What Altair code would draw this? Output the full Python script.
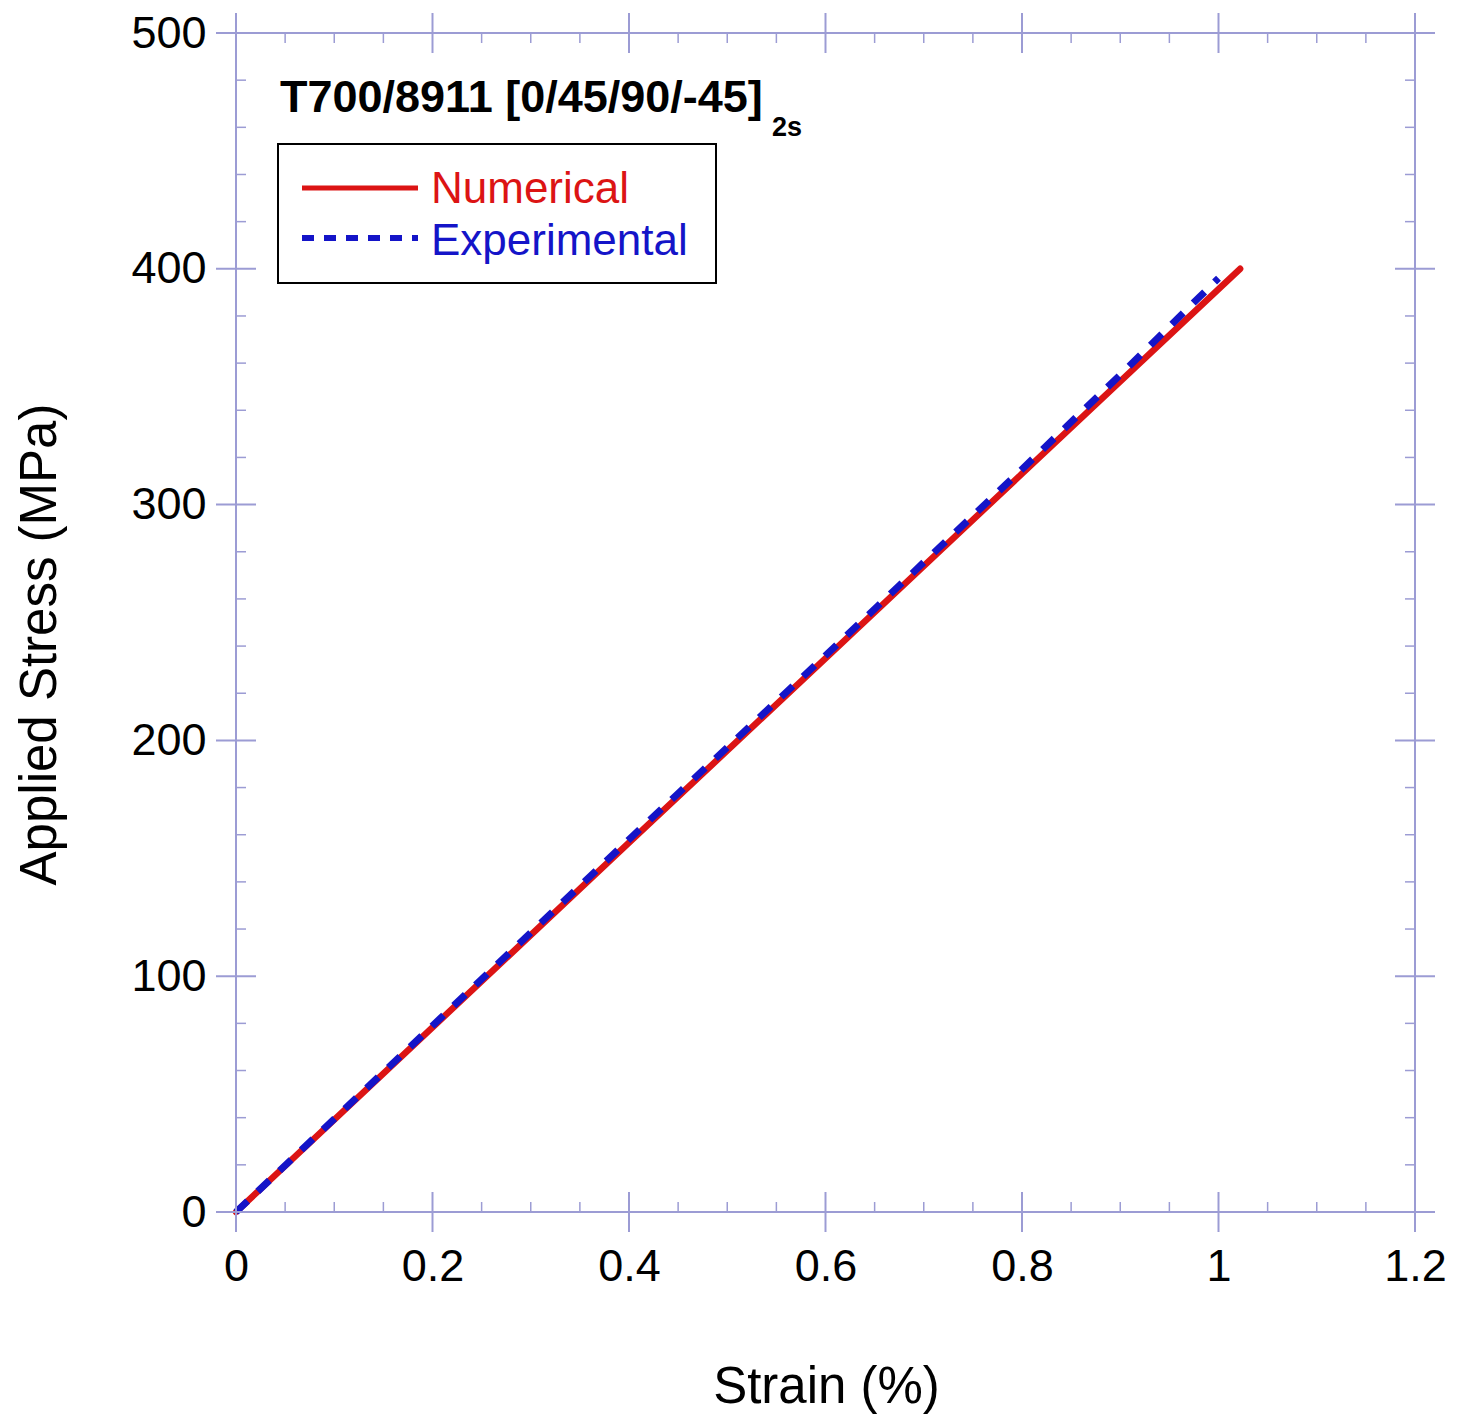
import altair as alt
import pandas as pd

# ---------------- data ----------------
num_strain = [0.0, 0.2, 0.4, 0.6, 0.8, 1.022]
num_stress = [0.0, 78.3, 156.6, 234.8, 313.1, 400.0]

exp_strain = [0.0, 0.2, 0.4, 0.6, 0.8, 0.9, 1.0]
exp_stress = [0.0, 79.0, 158.0, 236.0, 315.0, 355.0, 396.0]

x_major = [0, 0.2, 0.4, 0.6, 0.8, 1.0, 1.2]
x_minor = [0.05, 0.1, 0.15, 0.25, 0.3, 0.35, 0.45, 0.5, 0.55, 0.65, 0.7, 0.75,
           0.85, 0.9, 0.95, 1.05, 1.1, 1.15]
y_major = [0, 100, 200, 300, 400, 500]
y_minor = [20, 40, 60, 80, 120, 140, 160, 180, 220, 240, 260, 280,
           320, 340, 360, 380, 420, 440, 460, 480]

series_names = ["Numerical", "Experimental"]
title_main = "T700/8911 [0/45/90/-45]"
title_sub = "2s"
x_title = "Strain (%)"
y_title = "Applied Stress (MPa)"

# ---------------- style ----------------
W = 1179
H = 1179
FONT = "Liberation Sans"
RED = "#dc1414"
BLUE = "#1414c8"
AX = "#9c9cd4"

xscale = alt.Scale(domain=[0, 1.2], nice=False, zero=False)
yscale = alt.Scale(domain=[0, 500], nice=False, zero=False)

num_df = pd.DataFrame({"strain": num_strain, "stress": num_stress})
exp_df = pd.DataFrame({"strain": exp_strain, "stress": exp_stress})

x_axis = alt.Axis(values=x_major, format="~g", domain=False, ticks=False, grid=False,
                  labelFont=FONT, labelFontSize=45, labelColor="black", labelPadding=32,
                  labelFlush=False, labelOverlap=False,
                  title=x_title, titleFont=FONT, titleFontSize=51, titleFontWeight="normal",
                  titleColor="black", titleX=590, titleY=190, titleBaseline="alphabetic",
                  titleAlign="center")
y_axis = alt.Axis(values=y_major, format="d", domain=False, ticks=False, grid=False,
                  labelFont=FONT, labelFontSize=45, labelColor="black", labelPadding=30,
                  labelFlush=False, labelOverlap=False,
                  title=y_title, titleFont=FONT, titleFontSize=51, titleFontWeight="normal",
                  titleColor="black", titleX=-181, titleY=611, titleAngle=270,
                  titleBaseline="alphabetic", titleAlign="center")

num_line = alt.Chart(num_df).mark_line(color=RED, strokeWidth=6.5, strokeCap="round").encode(
    x=alt.X("strain:Q", scale=xscale, axis=x_axis),
    y=alt.Y("stress:Q", scale=yscale, axis=y_axis),
)
exp_line = alt.Chart(exp_df).mark_line(color=BLUE, strokeWidth=7, strokeDash=[16, 14]).encode(
    x=alt.X("strain:Q", scale=xscale, axis=x_axis),
    y=alt.Y("stress:Q", scale=yscale, axis=y_axis),
)

# ---------------- frame and ticks ----------------
xmaj_df = pd.DataFrame({"v": x_major})
xmin_df = pd.DataFrame({"v": x_minor})
ymaj_df = pd.DataFrame({"v": y_major})
ymin_df = pd.DataFrame({"v": y_minor})


def xticks(df, y1, y2, w):
    return alt.Chart(df).mark_rule(color=AX, strokeWidth=w).encode(
        x=alt.X("v:Q", scale=xscale, axis=x_axis), y=alt.value(y1), y2=alt.value(y2))


def yticks(df, x1, x2, w):
    return alt.Chart(df).mark_rule(color=AX, strokeWidth=w).encode(
        y=alt.Y("v:Q", scale=yscale, axis=y_axis), x=alt.value(x1), x2=alt.value(x2))


tick_layers = [
    xticks(xmaj_df, H - 20, H + 20, 2),
    xticks(xmaj_df, -20, 20, 2),
    xticks(xmin_df, H - 10, H, 1.5),
    xticks(xmin_df, 0, 10, 1.5),
    yticks(ymaj_df, -20, 20, 2),
    yticks(ymaj_df, W - 20, W + 20, 2),
    yticks(ymin_df, 0, 10, 1.5),
    yticks(ymin_df, W - 10, W, 1.5),
]

one = pd.DataFrame({"k": [0]})
frame_layers = [
    alt.Chart(one).mark_rule(color=AX, strokeWidth=2).encode(
        x=alt.value(-20), x2=alt.value(W + 20), y=alt.value(H)),
    alt.Chart(one).mark_rule(color=AX, strokeWidth=2).encode(
        x=alt.value(-20), x2=alt.value(W + 20), y=alt.value(0)),
    alt.Chart(one).mark_rule(color=AX, strokeWidth=2).encode(
        y=alt.value(-20), y2=alt.value(H + 20), x=alt.value(0)),
    alt.Chart(one).mark_rule(color=AX, strokeWidth=2).encode(
        y=alt.value(-20), y2=alt.value(H + 20), x=alt.value(W)),
]

# ---------------- title & legend ----------------
title_df = pd.DataFrame({"t": [title_main]})
sub_df = pd.DataFrame({"t": [title_sub]})
title_text = alt.Chart(title_df).mark_text(
    font=FONT, fontSize=45, fontWeight="bold", align="left", baseline="alphabetic", color="black"
).encode(x=alt.value(44), y=alt.value(79), text="t:N")
sub_text = alt.Chart(sub_df).mark_text(
    font=FONT, fontSize=27, fontWeight="bold", align="left", baseline="alphabetic", color="black"
).encode(x=alt.value(536), y=alt.value(103), text="t:N")

legend_box = alt.Chart(one).mark_rect(fill="white", stroke="black", strokeWidth=2).encode(
    x=alt.value(42), x2=alt.value(480), y=alt.value(111), y2=alt.value(250))
leg_red = alt.Chart(one).mark_rule(color=RED, strokeWidth=5).encode(
    x=alt.value(66), x2=alt.value(182), y=alt.value(155))
leg_blue = alt.Chart(one).mark_rule(color=BLUE, strokeWidth=6, strokeDash=[12, 10]).encode(
    x=alt.value(66), x2=alt.value(182), y=alt.value(205))
leg_num = alt.Chart(pd.DataFrame({"t": [series_names[0]]})).mark_text(
    font=FONT, fontSize=44, align="left", baseline="alphabetic", color=RED
).encode(x=alt.value(195), y=alt.value(170), text="t:N")
leg_exp = alt.Chart(pd.DataFrame({"t": [series_names[1]]})).mark_text(
    font=FONT, fontSize=44, align="left", baseline="alphabetic", color=BLUE
).encode(x=alt.value(195), y=alt.value(222), text="t:N")

chart = alt.layer(
    num_line, exp_line, *frame_layers, *tick_layers,
    title_text, sub_text, legend_box, leg_red, leg_blue, leg_num, leg_exp,
).properties(
    width=W, height=H,
    padding={"left": 236, "top": 33, "right": 44, "bottom": 209},
    autosize=alt.AutoSizeParams(type="none"),
    background="white",
).configure_view(stroke=None)

chart.save("out.html", embed_options={"renderer": "svg", "actions": False})
